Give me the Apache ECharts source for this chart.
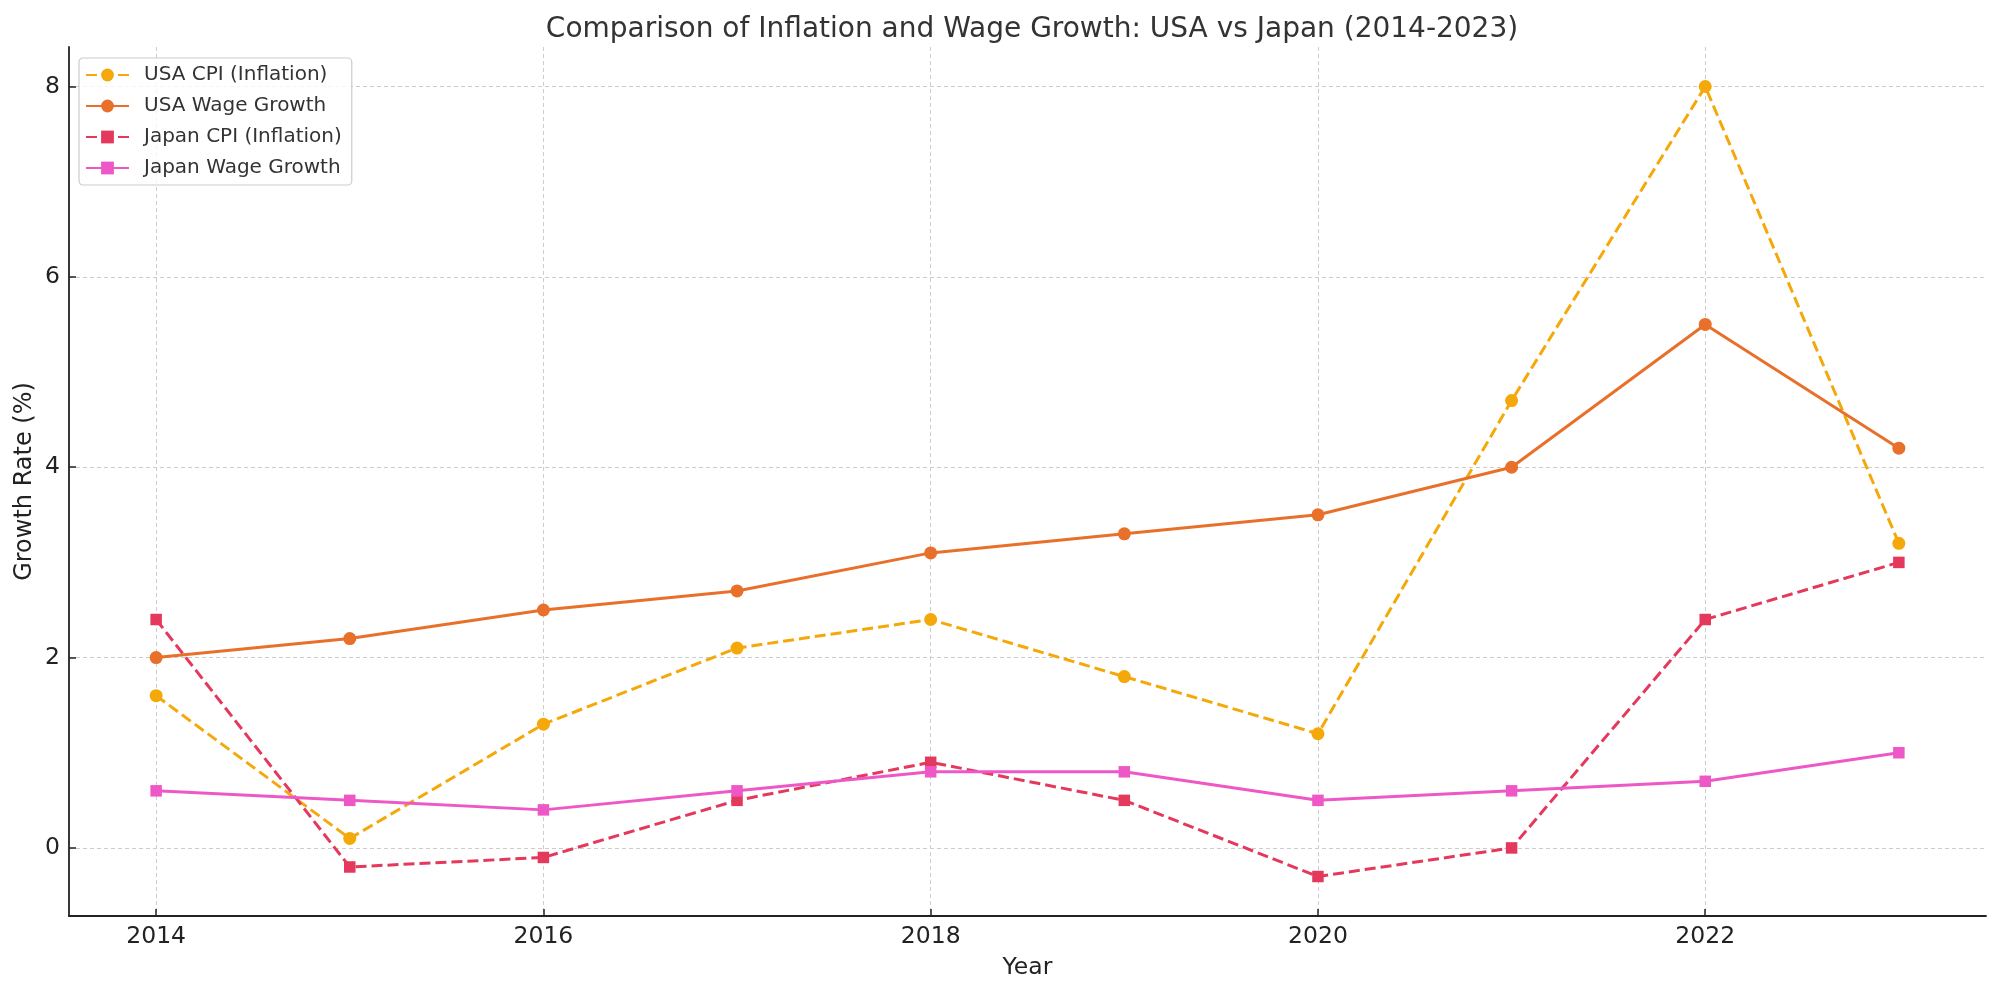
<!DOCTYPE html>
<html>
<head>
<meta charset="utf-8">
<script src="https://cdn.jsdelivr.net/npm/echarts@6/dist/echarts.min.js"></script>
<style>
html,body{margin:0;padding:0;background:#fff;}
#chart{width:2000px;height:993px;}
</style>
</head>
<body>
<div id="chart"></div>
<script>
const years = [2014, 2015, 2016, 2017, 2018, 2019, 2020, 2021, 2022, 2023];
const usaCpi = [1.6, 0.1, 1.3, 2.1, 2.4, 1.8, 1.2, 4.7, 8.0, 3.2];
const usaWage = [2.0, 2.2, 2.5, 2.7, 3.1, 3.3, 3.5, 4.0, 5.5, 4.2];
const japanCpi = [2.4, -0.2, -0.1, 0.5, 0.9, 0.5, -0.3, 0.0, 2.4, 3.0];
const japanWage = [0.6, 0.5, 0.4, 0.6, 0.8, 0.8, 0.5, 0.6, 0.7, 1.0];
const xTicks = [2014, 2016, 2018, 2020, 2022];
const yTicks = [0, 2, 4, 6, 8];
const seriesNames = ['USA CPI (Inflation)', 'USA Wage Growth', 'Japan CPI (Inflation)', 'Japan Wage Growth'];

const font = 'DejaVu Sans';
function pairs(vals) { return years.map((y, i) => [y, vals[i]]); }

function mk(name, vals, color, dashed, symbol) {
  return {
    name: name,
    type: 'line',
    data: pairs(vals),
    symbol: symbol,
    symbolSize: symbol === 'circle' ? 13 : 11.5,
    itemStyle: { color: color },
    lineStyle: { color: color, width: 3, type: dashed ? [11, 5] : 'solid' },
    emphasis: { disabled: true },
    animation: false
  };
}

const chart = echarts.init(document.getElementById('chart'));
chart.setOption({
  backgroundColor: '#ffffff',
  animation: false,
  title: {
    text: 'Comparison of Inflation and Wage Growth: USA vs Japan (2014-2023)',
    left: 1027, top: 11, textAlign: 'center',
    textStyle: { fontFamily: font, fontSize: 28, fontWeight: 'normal', color: '#333333' }
  },
  legend: {
    orient: 'vertical',
    left: 79, top: 58,
    data: seriesNames,
    itemWidth: 43, itemHeight: 16, itemGap: 11,
    padding: [7, 10, 7, 6],
    backgroundColor: 'rgba(255,255,255,0.8)',
    borderColor: '#cccccc', borderWidth: 1.2, borderRadius: 4,
    textStyle: { fontFamily: font, fontSize: 20, color: '#333333', padding: [0, 0, 0, 10] }
  },
  grid: { left: 69, right: 14, top: 47, bottom: 77, containLabel: false },
  xAxis: {
    type: 'value',
    min: 2013.55, max: 2023.45,
    name: 'Year', nameLocation: 'middle', nameGap: 40, nameMoveOverlap: false,
    nameTextStyle: { fontFamily: font, fontSize: 23.5, color: '#222222' },
    axisLine: { show: true, onZero: false, lineStyle: { color: '#222222', width: 1.8 } },
    axisTick: { show: true, inside: true, length: 7, customValues: xTicks, lineStyle: { color: '#222222', width: 1.5 } },
    axisLabel: { customValues: xTicks, fontFamily: font, fontSize: 23.5, color: '#222222', margin: 9, formatter: v => String(v) },
    splitLine: { show: true, lineStyle: { color: '#cccccc', width: 1, type: [4, 3] } }
  },
  yAxis: {
    type: 'value',
    min: -0.715, max: 8.415,
    name: 'Growth Rate (%)', nameLocation: 'middle', nameGap: 32, nameMoveOverlap: false,
    nameTextStyle: { fontFamily: font, fontSize: 24, color: '#222222' },
    axisLine: { show: true, onZero: false, lineStyle: { color: '#222222', width: 1.8 } },
    axisTick: { show: true, inside: true, length: 7, customValues: yTicks, lineStyle: { color: '#222222', width: 1.5 } },
    axisLabel: { customValues: yTicks, fontFamily: font, fontSize: 23.5, color: '#222222', margin: 9, formatter: v => String(v) },
    splitLine: { show: true, lineStyle: { color: '#cccccc', width: 1, type: [4, 3] } }
  },
  series: [
    mk(seriesNames[0], usaCpi, '#F5A80A', true, 'circle'),
    mk(seriesNames[1], usaWage, '#E8702A', false, 'circle'),
    mk(seriesNames[2], japanCpi, '#E4395D', true, 'rect'),
    mk(seriesNames[3], japanWage, '#EE58C6', false, 'rect')
  ]
});
</script>
</body>
</html>
